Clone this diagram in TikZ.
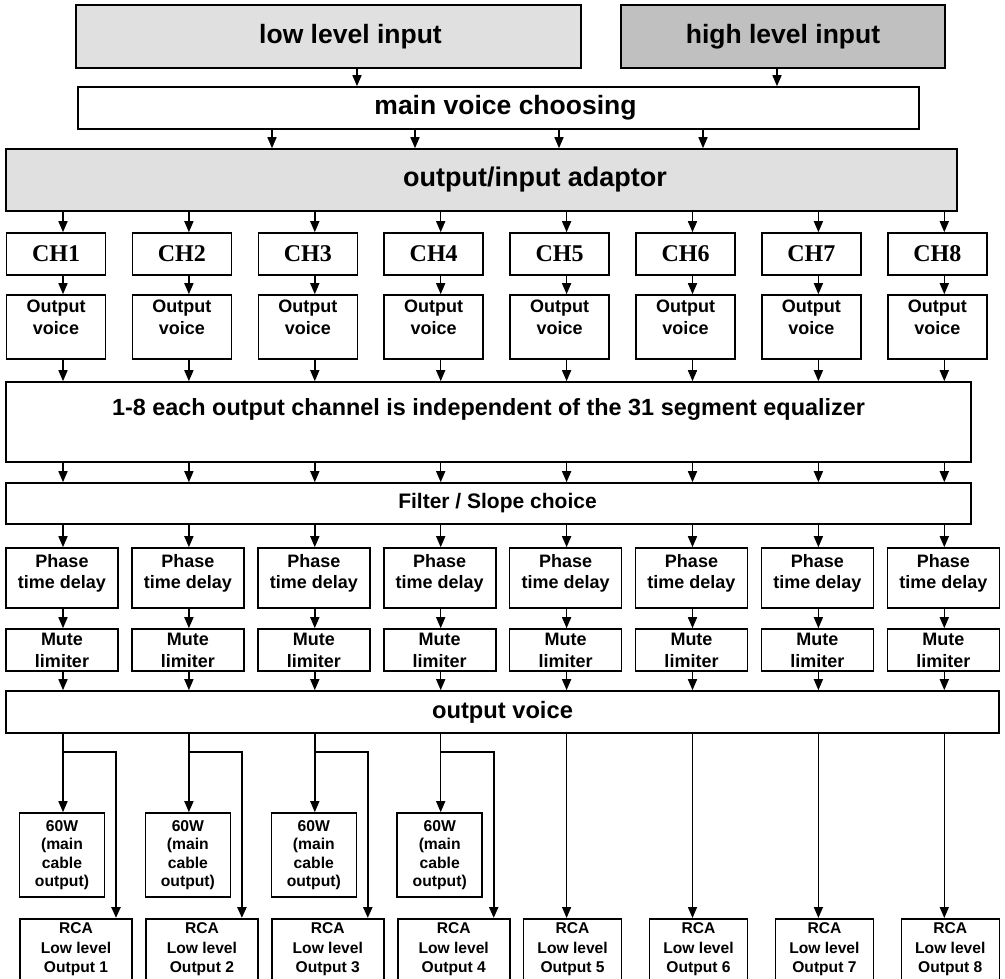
\documentclass[tikz,border=0pt]{standalone}
\usepackage{fontspec}
\setmainfont{Liberation Sans}
\newfontfamily\chfont{Liberation Serif}
\usepackage{xcolor}
\usetikzlibrary{arrows.meta}

\definecolor{lowgray}{HTML}{E0E0E0}
\definecolor{highgray}{HTML}{C0C0C0}

\begin{document}
\begin{tikzpicture}[x=1pt, y=-1pt, >={Triangle[width=9pt,length=11pt]},
  every node/.style={draw, line width=1.6pt, align=center, inner sep=0pt,
    font=\bfseries\fontsize{18}{21}\selectfont},
  bar/.style={minimum height=42pt, font=\bfseries\fontsize{24}{28}\selectfont},
  chbox/.style={minimum width=99pt, minimum height=42pt,
    font=\chfont\bfseries\fontsize{24}{28}\selectfont},
  voicebox/.style={minimum width=99pt, minimum height=64pt, text height=34pt, text depth=20pt},
  phasebox/.style={minimum width=112pt, minimum height=60pt, text height=34pt, text depth=14pt},
  mutebox/.style={minimum width=112pt, minimum height=42pt, text height=35pt, text depth=0pt,
    font=\bfseries\fontsize{18}{22}\selectfont},
  wattbox/.style={minimum width=85pt, minimum height=84pt,
    font=\bfseries\fontsize{15.7}{18.5}\selectfont},
  rcabox/.style={anchor=north, inner ysep=4pt, text height=50pt, text depth=20pt,
    font=\bfseries\fontsize{15.6}{19.5}\selectfont},
  link/.style={->, line width=1.5pt},
  branch/.style={->, line width=2.4pt}]
  \useasboundingbox (0,0) rectangle (1005,979);
  \clip (0,0) rectangle (1005,979);

  % inputs
  \node[fill=lowgray, minimum width=505pt, minimum height=63pt,
    font=\bfseries\fontsize{26.5}{30}\selectfont] (low) at (328.5,36.5) {\hspace*{44pt}low level input};
  \node[fill=highgray, minimum width=324pt, minimum height=63pt,
    font=\bfseries\fontsize{26.5}{30}\selectfont] (high) at (783,36.5) {high level input};
  \node[bar, minimum width=841pt, font=\bfseries\fontsize{26.5}{30}\selectfont] (main) at (498.5,108) {\hspace*{14pt}main voice choosing};
  \node[fill=lowgray, minimum width=951pt, minimum height=62pt,
    font=\bfseries\fontsize{27}{30}\selectfont] (adapt) at (481.5,180) {\hspace*{107pt}output/input adaptor};
  \draw[link] ([xshift=28.5pt]low.south) -- ([xshift=28.5pt]low.south |- main.north);
  \draw[link] ([xshift=-6pt]high.south) -- ([xshift=-6pt]high.south |- main.north);
  \foreach \dx in {-226.5,-83.5,60.5,204.5}
    \draw[link] ([xshift=\dx pt]main.south) -- ([xshift=\dx pt]main.south |- adapt.north);

  % shared bars
  \node[minimum width=965pt, minimum height=80pt, text height=17pt, text depth=31pt,
    font=\bfseries\fontsize{23.4}{28}\selectfont] (eq) at (488.5,422)
    {1-8 each output channel is independent of the 31 segment equalizer};
  \node[minimum width=965pt, minimum height=41pt, font=\bfseries\fontsize{21}{25}\selectfont]
    (filter) at (488.5,503.5) {\hspace*{18pt}Filter / Slope choice};
  \node[bar, minimum width=993pt, font=\bfseries\fontsize{23.7}{28}\selectfont]
    (out) at (502.5,712) {output voice};

  % eight channels
  \foreach \i in {1,...,8} {
    \pgfmathsetmacro\ax{63+125.9*(\i-1)}
    \coordinate (c\i) at (\ax,0);
    \node[chbox] (ch\i) at (\ax-7,254) {CH\i};
    \node[voicebox] (ov\i) at (\ax-7,327) {Output\\voice};
    \node[phasebox] (ph\i) at (\ax-1,578) {Phase\\time delay};
    \node[mutebox] (mu\i) at (\ax-1,650) {Mute\\limiter};
    \draw[link] (adapt.south -| c\i) -- (ch\i.north -| c\i);
    \draw[link] (ch\i.south -| c\i) -- (ov\i.north -| c\i);
    \draw[link] (ov\i.south -| c\i) -- (eq.north -| c\i);
    \draw[link] (eq.south -| c\i) -- (filter.north -| c\i);
    \draw[link] (filter.south -| c\i) -- (ph\i.north -| c\i);
    \draw[link] (ph\i.south -| c\i) -- (mu\i.north -| c\i);
    \draw[link] (mu\i.south -| c\i) -- (out.north -| c\i);
    \ifnum\i<5
      \node[wattbox] (w\i) at (\ax-1,855) {60W\\(main\\cable\\output)};
      \node[rcabox, minimum width=112pt] (rca\i) at (\ax+13,918) {RCA\\Low level\\Output \i};
      \coordinate (b\i) at (\ax,752);
      \coordinate (r\i) at (\ax+53,752);
      \draw[link] (out.south -| c\i) -- (w\i.north -| c\i);
      \draw[branch] (b\i) -- (r\i) -- (r\i |- rca\i.north);
    \else
      \node[rcabox, minimum width=98pt] (rca\i) at (\ax+6,918) {RCA\\Low level\\Output \i};
      \draw[link] (out.south -| c\i) -- (rca\i.north -| c\i);
    \fi
  }
\end{tikzpicture}
\end{document}
